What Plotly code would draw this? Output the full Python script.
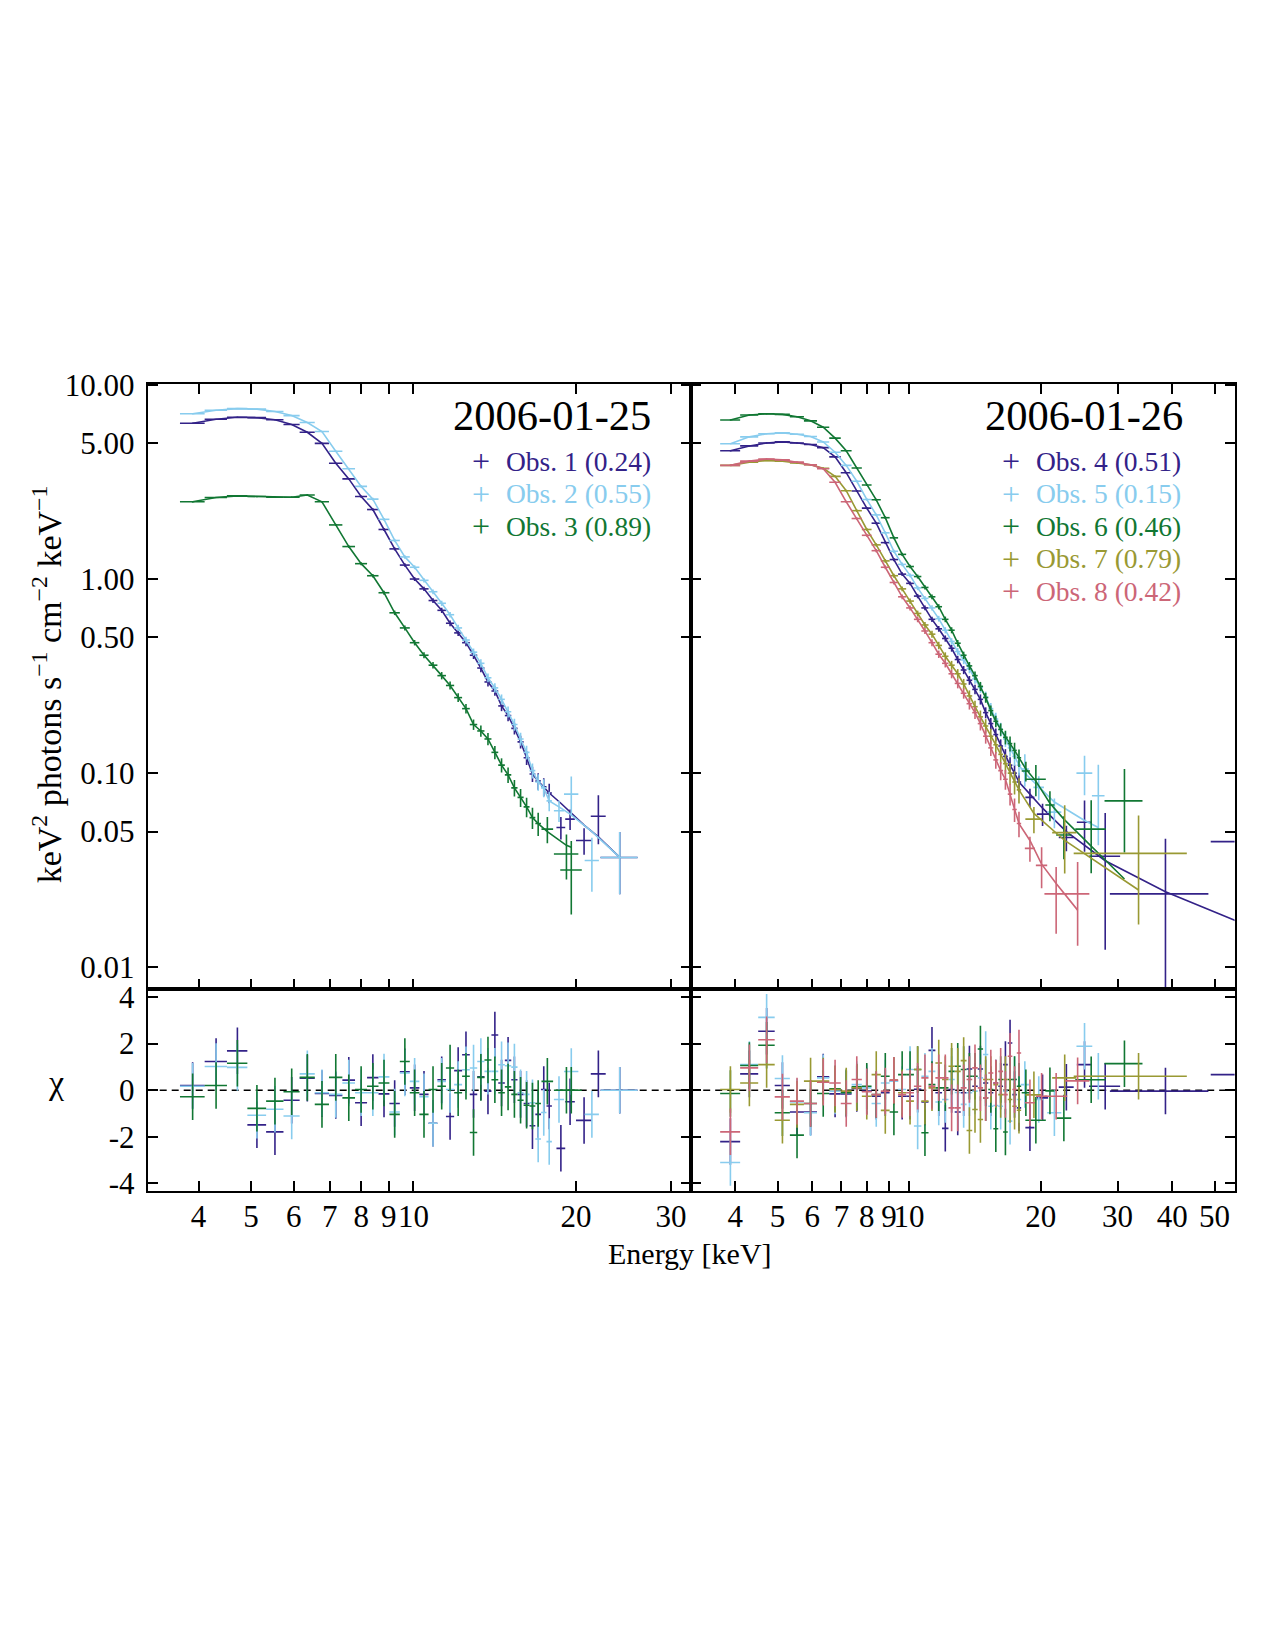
import math
import plotly.graph_objects as go

W, H = 1275, 1650
FONT = "Liberation Serif"

# ---------------- data ----------------
E_GRID = [3.90, 4.31, 4.72, 5.13, 5.54, 5.95, 6.36, 6.77, 7.18, 7.59, 8.00, 8.41, 8.82, 9.23, 9.64,
          10.05, 10.46, 10.87, 11.28, 11.69, 12.10, 12.51, 12.92, 13.33, 13.74, 14.15, 14.56, 14.97,
          15.38, 15.79, 16.20, 16.61, 17.02, 17.43, 17.84]
GRID_HALF_WIDTH = 0.205
REL_ERR = [0.005, 0.005, 0.005, 0.005, 0.006, 0.006, 0.006, 0.007, 0.009, 0.011, 0.013, 0.015, 0.017,
           0.019, 0.021, 0.023, 0.026, 0.028, 0.031, 0.034, 0.037, 0.040, 0.044, 0.048, 0.052, 0.056,
           0.060, 0.065, 0.070, 0.076, 0.082, 0.090, 0.098, 0.106, 0.115]

# --- 2006-01-25 ---
OBS1_FLUX = [6.35, 6.65, 6.82, 6.78, 6.62, 6.25, 5.70, 5.00, 3.95, 3.28, 2.66, 2.28, 1.80, 1.43, 1.18,
             1.00, 0.89, 0.775, 0.69, 0.592, 0.528, 0.47, 0.405, 0.348, 0.295, 0.265, 0.222, 0.198,
             0.170, 0.145, 0.12, 0.099, 0.091, 0.085, 0.079]
OBS1_TAIL_E = [18.75, 19.5, 20.7, 22.0, 24.1]
OBS1_TAIL_HW = [0.35, 0.4, 0.7, 0.7, 1.9]
OBS1_TAIL_FLUX = [0.0525, 0.058, 0.045, 0.060, 0.0368]
OBS1_TAIL_ERR = [0.007, 0.007, 0.007, 0.017, 0.013]
OBS1_TAIL_MODEL = [0.070, 0.063, 0.054, 0.047, 0.0368]
OBS1_CHI = [0.2, 1.23, 1.69, -1.49, -1.79, -0.43, 0.51, -0.14, -0.23, 0.43, -0.54, 0.54, -0.16, -0.57,
            0.79, 0.1, -0.18, -1.42, 0.45, -1.13, 0.84, 1.52, -0.18, 0.57, -0.04, 2.37, 0.31, 1.28,
            0.45, -0.18, -0.57, -1.53, -1.04, 0.03, -0.68, -2.5, -0.5, -1.3, 0.7, 0.0]

OBS2_FLUX = [7.1, 7.4, 7.55, 7.5, 7.3, 6.95, 6.4, 5.75, 4.55, 3.7, 3.0, 2.58, 2.03, 1.58, 1.30, 1.15,
             0.985, 0.86, 0.75, 0.655, 0.56, 0.485, 0.42, 0.368, 0.31, 0.275, 0.24, 0.207, 0.178,
             0.15, 0.128, 0.103, 0.09, 0.084, 0.072]
OBS2_TAIL_E = [18.6, 19.6, 21.4, 24.1]
OBS2_TAIL_HW = [0.4, 0.6, 0.65, 1.9]
OBS2_TAIL_FLUX = [0.064, 0.078, 0.0355, 0.0368]
OBS2_TAIL_ERR = [0.008, 0.018, 0.011, 0.013]
OBS2_TAIL_MODEL = [0.067, 0.061, 0.050, 0.0368]
OBS2_CHI = [0.17, 1.02, 0.98, -1.08, -0.82, -1.11, 0.7, -0.11, -0.18, 0.31, -0.11, -0.11, 0.57, -0.94,
            0.74, 0.38, -0.28, -1.42, 0.38, 0.03, 0.24, 0.88, 0.95, 1.23, 0.81, 0.81, 1.09, 1.05,
            0.99, -0.11, -0.18, -0.54, -2.1, -0.96, -2.21, -0.4, 0.8, -1.04, 0.0]

OBS3_FLUX = [2.5, 2.63, 2.68, 2.66, 2.64, 2.64, 2.71, 2.5, 1.9, 1.47, 1.2, 1.04, 0.85, 0.67, 0.56,
             0.47, 0.405, 0.36, 0.318, 0.283, 0.245, 0.215, 0.178, 0.165, 0.15, 0.128, 0.11, 0.098,
             0.084, 0.075, 0.067, 0.059, 0.055]
OBS3_TAIL_E = [17.7, 19.2, 19.6]
OBS3_TAIL_HW = [0.44, 1.0, 0.9]
OBS3_TAIL_FLUX = [0.0515, 0.0383, 0.0317]
OBS3_TAIL_ERR = [0.008, 0.010, 0.013]
OBS3_TAIL_MODEL = [0.050, 0.0425, 0.0415]
OBS3_CHI = [-0.28, 0.2, 1.16, -0.78, -0.47, -0.07, 0.55, -0.61, 0.55, -0.33, 0.03, 0.17, 0.31, -1.04,
            1.23, -0.11, -1.04, 0.03, 0.17, 0.95, -0.11, 0.6, -1.82, 0.55, 1.3, 0.45, -0.11, 0.14,
            -0.18, -0.43, -0.65, -0.68, -0.57, 0.38, 0.0, 0.0]

# --- 2006-01-26 ---
OBS4_FLUX = [4.58, 4.85, 5.02, 5.09, 5.02, 4.93, 4.75, 4.26, 3.53, 2.84, 2.32, 1.94, 1.54, 1.26, 1.06,
             0.95, 0.817, 0.71, 0.62, 0.554, 0.494, 0.44, 0.385, 0.34, 0.301, 0.27, 0.24, 0.205,
             0.18, 0.158, 0.138, 0.122, 0.11, 0.10, 0.09]
OBS4_TAIL_E = [18.9, 20.2, 22.9, 25.2, 28.1, 38.6, 58.0]
OBS4_TAIL_HW = [0.45, 0.6, 0.9, 1.0, 2.3, 9.8, 9.0]
OBS4_TAIL_FLUX = [0.075, 0.0615, 0.0466, 0.0559, 0.0373, 0.0239, 0.0444]
OBS4_TAIL_ERR = [0.008, 0.008, 0.007, 0.0165, 0.025, 0.022, 0.04]
OBS4_TAIL_MODEL = [0.078, 0.066, 0.050, 0.0425, 0.0354, 0.0245, 0.0168]
OBS4_CHI = [-2.21, 0.7, 2.53, 0.2, -0.94, -0.94, 0.57, -0.16, -0.16, 0.07, -0.04, -0.26, -0.11, 0.39,
            -0.26, -0.26, 0.04, -0.51, 1.71, -0.11, -1.64, 0.03, -0.94, -0.11, 0.91, 0.17, 0.91,
            0.31, -0.11, 0.31, 0.17, 1.1, 2.03, -0.19, -0.76, -1.61, -0.33, 0.13, 1.1, 0.17, -0.04,
            0.67]

OBS5_FLUX = [4.98, 5.4, 5.6, 5.66, 5.57, 5.42, 5.08, 4.5, 3.85, 3.19, 2.57, 2.14, 1.73, 1.39, 1.19,
             1.045, 0.90, 0.795, 0.71, 0.625, 0.545, 0.477, 0.423, 0.383, 0.345, 0.306, 0.276,
             0.247, 0.215, 0.19, 0.168, 0.15, 0.135, 0.122, 0.11]
OBS5_TAIL_E = [18.4, 19.8, 21.5, 25.2, 27.1]
OBS5_TAIL_HW = [0.4, 0.55, 0.8, 1.05, 0.9]
OBS5_TAIL_FLUX = [0.105, 0.0845, 0.063, 0.10, 0.0765]
OBS5_TAIL_ERR = [0.02, 0.012, 0.011, 0.023, 0.034]
OBS5_TAIL_MODEL = [0.10, 0.085, 0.071, 0.057, 0.0525]
OBS5_CHI = [-3.11, 1.1, 3.13, 0.5, -0.51, -0.97, 0.53, -0.04, -0.11, 0.24, 0.1, -0.57, 0.31, 0.39,
            0.03, 0.89, -1.54, 0.6, 0.81, -0.51, -0.4, 0.46, -0.1, -0.61, -0.11, -0.04, 0.53, 1.53,
            -0.69, -0.66, -0.69, -0.04, -1.33, 0.46, -0.4, 0.24, -0.4, -0.97, 1.89, 0.6]

OBS6_FLUX = [6.6, 7.0, 7.1, 7.05, 6.85, 6.53, 6.05, 5.32, 4.58, 3.73, 3.05, 2.56, 2.07, 1.63, 1.34,
             1.16, 1.03, 0.905, 0.81, 0.72, 0.62, 0.545, 0.467, 0.405, 0.357, 0.318, 0.28, 0.245,
             0.21, 0.185, 0.168, 0.153, 0.142, 0.131, 0.12]
OBS6_TAIL_E = [18.5, 19.5, 21.0, 22.6, 26.1, 31.1]
OBS6_TAIL_HW = [0.4, 1.05, 0.5, 0.9, 2.1, 3.1]
OBS6_TAIL_FLUX = [0.1026, 0.093, 0.0686, 0.048, 0.0515, 0.072]
OBS6_TAIL_ERR = [0.012, 0.017, 0.012, 0.012, 0.021, 0.033]
OBS6_TAIL_MODEL = [0.105, 0.091, 0.070, 0.058, 0.042, 0.0285]
OBS6_CHI = [-0.14, 1.06, 1.93, -0.97, -1.93, -0.57, -0.14, 0.06, -0.11, 0.14, 0.17, -0.19, 0.6, -0.94,
            0.67, 0.67, 0.89, -1.83, 0.24, 0.1, 0.1, 0.81, 1.03, 0.89, 0.6, 0.6, 1.77, -0.33, 0.03,
            -1.66, 0.46, -1.8, 0.46, 0.46, 0.17, -0.11, -1.29, -0.03, -1.2, 0.45, 1.14]

OBS7_FLUX = [3.85, 4.0, 4.08, 4.05, 3.96, 3.88, 3.72, 3.38, 2.85, 2.25, 1.8, 1.5, 1.24, 1.04, 0.89,
             0.77, 0.665, 0.58, 0.52, 0.455, 0.40, 0.36, 0.325, 0.288, 0.25, 0.22, 0.195, 0.175,
             0.155, 0.14, 0.125, 0.112, 0.10, 0.09, 0.082]
OBS7_TAIL_E = [19.3, 22.7, 33.5]
OBS7_TAIL_HW = [0.85, 1.45, 9.7]
OBS7_TAIL_FLUX = [0.058, 0.0494, 0.0386]
OBS7_TAIL_ERR = [0.009, 0.019, 0.022]
OBS7_TAIL_MODEL = [0.062, 0.045, 0.025]
OBS7_CHI = [0.03, 0.31, 1.1, -1.29, -0.61, 0.39, 0.39, 0.03, -0.04, 0.1, -0.26, 0.67, -0.87, 0.43,
            -0.11, -0.47, 0.89, -0.47, 0.1, 1.17, 0.46, 1.03, 0.81, 1.27, -1.73, -0.83, -1.26, 0.46,
            0.46, 0.24, -0.19, 0.46, -0.4, -0.69, -0.86, -0.2, 0.53, 0.6]

OBS8_FLUX = [3.85, 4.05, 4.15, 4.11, 4.0, 3.88, 3.7, 3.15, 2.5, 2.05, 1.68, 1.4, 1.15, 0.96, 0.81,
             0.71, 0.62, 0.54, 0.47, 0.41, 0.368, 0.325, 0.29, 0.258, 0.228, 0.205, 0.18, 0.155,
             0.135, 0.117, 0.103, 0.093, 0.078, 0.065, 0.055]
OBS8_TAIL_E = [18.9, 20.1, 21.7, 24.3]
OBS8_TAIL_HW = [0.5, 0.6, 1.3, 1.55]
OBS8_TAIL_FLUX = [0.041, 0.0335, 0.0239, 0.0239]
OBS8_TAIL_ERR = [0.006, 0.008, 0.009, 0.011]
OBS8_TAIL_MODEL = [0.045, 0.034, 0.027, 0.0197]
OBS8_CHI = [-1.79, 0.96, 2.17, -0.29, -0.47, -0.57, 0.34, 0.31, -0.57, 0.46, -0.07, -0.19, -0.04, 0.43,
            -0.19, -0.11, 0.17, 0.53, 0.17, 0.53, 0.53, -0.76, -0.76, 0.1, 0.46, 0.96, 0.1, -0.33,
            0.74, 0.31, 0.81, -0.19, 1.46, 0.03, 1.6, -0.54, -0.26, -0.26, 0.4]

LEGEND_LEFT = ["Obs. 1 (0.24)", "Obs. 2 (0.55)", "Obs. 3 (0.89)"]
LEGEND_RIGHT = ["Obs. 4 (0.51)", "Obs. 5 (0.15)", "Obs. 6 (0.46)", "Obs. 7 (0.79)", "Obs. 8 (0.42)"]
TITLE_LEFT = "2006-01-25"
TITLE_RIGHT = "2006-01-26"

X_TICKS_LEFT = [4, 5, 6, 7, 8, 9, 10, 20, 30]
X_TICKS_RIGHT = [4, 5, 6, 7, 8, 9, 10, 20, 30, 40, 50]
Y_TICKS = [0.01, 0.05, 0.1, 0.5, 1, 5, 10]
Y_TICK_TEXT = ["0.01", "0.05", "0.10", "0.50", "1.00", "5.00", "10.00"]
R_TICKS = [-4, -2, 0, 2, 4]
R_TICK_TEXT = ["-4", "-2", "0", "2", "4"]

C_INDIGO, C_CYAN, C_GREEN, C_OLIVE, C_ROSE = "#332288", "#88CCEE", "#117733", "#999933", "#CC6677"


# ---------------- helpers ----------------
def pxx(x):
    return x / W


def pxy(y):
    return 1 - y / H


X_LEFT = [pxx(147.7), pxx(691.2)]
X_RIGHT = [pxx(691.2), pxx(1234.6)]
Y_TOP = [pxy(989.0), pxy(373.5)]
Y_BOT = [pxy(1193.5), pxy(989.0)]
XR_LEFT = [math.log10(3.22), math.log10(3.22) + (691.2 - 147.7) / 540.0]
XR_RIGHT = [math.log10(3.172), math.log10(3.172) + (1234.6 - 691.2) / 437.0]
YR_TOP = [-2.114, 1.0067]
YR_BOT = [-4.32, 4.33]

fig = go.Figure()


def add_obs(flux, te, thw, tf, terr, tm, chi, color, escale, top, bot):
    n = len(flux)
    e = E_GRID[:n] + te
    hw = [GRID_HALF_WIDTH] * n + thw
    y = flux + tf
    dy = [f * r * escale for f, r in zip(flux, REL_ERR)] + terr
    model = flux + tm
    fig.add_trace(go.Scatter(x=e, y=model, mode="lines", line=dict(color=color, width=1.6),
                             xaxis=top[0], yaxis=top[1], showlegend=False, hoverinfo="skip"))
    fig.add_trace(go.Scatter(x=e, y=y, mode="markers", marker=dict(size=1, color=color),
                             error_x=dict(type="data", array=hw, width=0, thickness=1.6, color=color),
                             error_y=dict(type="data", array=dy, width=0, thickness=1.6, color=color),
                             xaxis=top[0], yaxis=top[1], showlegend=False))
    fig.add_trace(go.Scatter(x=e, y=chi, mode="markers", marker=dict(size=1, color=color),
                             error_x=dict(type="data", array=hw, width=0, thickness=1.6, color=color),
                             error_y=dict(type="constant", value=1, width=0, thickness=1.6, color=color),
                             xaxis=bot[0], yaxis=bot[1], showlegend=False))


LT, LB, RT, RB = ("x", "y"), ("x2", "y2"), ("x3", "y3"), ("x4", "y4")
add_obs(OBS1_FLUX, OBS1_TAIL_E, OBS1_TAIL_HW, OBS1_TAIL_FLUX, OBS1_TAIL_ERR, OBS1_TAIL_MODEL, OBS1_CHI, C_INDIGO, 1.0, LT, LB)
add_obs(OBS2_FLUX, OBS2_TAIL_E, OBS2_TAIL_HW, OBS2_TAIL_FLUX, OBS2_TAIL_ERR, OBS2_TAIL_MODEL, OBS2_CHI, C_CYAN, 1.0, LT, LB)
add_obs(OBS3_FLUX, OBS3_TAIL_E, OBS3_TAIL_HW, OBS3_TAIL_FLUX, OBS3_TAIL_ERR, OBS3_TAIL_MODEL, OBS3_CHI, C_GREEN, 1.4, LT, LB)
add_obs(OBS4_FLUX, OBS4_TAIL_E, OBS4_TAIL_HW, OBS4_TAIL_FLUX, OBS4_TAIL_ERR, OBS4_TAIL_MODEL, OBS4_CHI, C_INDIGO, 1.0, RT, RB)
add_obs(OBS5_FLUX, OBS5_TAIL_E, OBS5_TAIL_HW, OBS5_TAIL_FLUX, OBS5_TAIL_ERR, OBS5_TAIL_MODEL, OBS5_CHI, C_CYAN, 1.0, RT, RB)
add_obs(OBS6_FLUX, OBS6_TAIL_E, OBS6_TAIL_HW, OBS6_TAIL_FLUX, OBS6_TAIL_ERR, OBS6_TAIL_MODEL, OBS6_CHI, C_GREEN, 0.9, RT, RB)
add_obs(OBS7_FLUX, OBS7_TAIL_E, OBS7_TAIL_HW, OBS7_TAIL_FLUX, OBS7_TAIL_ERR, OBS7_TAIL_MODEL, OBS7_CHI, C_OLIVE, 1.3, RT, RB)
add_obs(OBS8_FLUX, OBS8_TAIL_E, OBS8_TAIL_HW, OBS8_TAIL_FLUX, OBS8_TAIL_ERR, OBS8_TAIL_MODEL, OBS8_CHI, C_ROSE, 1.3, RT, RB)

tickfont = dict(family=FONT, size=31, color="black")
base = dict(showline=True, linecolor="black", linewidth=2, ticks="inside", ticklen=10, tickwidth=1.5,
            tickcolor="black", showgrid=False, zeroline=False, tickfont=tickfont, tickangle=0)

layout_axes = dict(
    xaxis=dict(base, type="log", domain=X_LEFT, range=XR_LEFT, anchor="y", mirror="ticks",
               tickvals=X_TICKS_LEFT, showticklabels=False),
    xaxis2=dict(base, type="log", domain=X_LEFT, range=XR_LEFT, anchor="y2", mirror=True,
                tickvals=X_TICKS_LEFT, ticktext=[str(v) for v in X_TICKS_LEFT], ticklabelstandoff=-3),
    xaxis3=dict(base, type="log", domain=X_RIGHT, range=XR_RIGHT, anchor="y3", mirror="ticks",
                tickvals=X_TICKS_RIGHT, showticklabels=False),
    xaxis4=dict(base, type="log", domain=X_RIGHT, range=XR_RIGHT, anchor="y4", mirror=True,
                tickvals=X_TICKS_RIGHT, ticktext=[str(v) for v in X_TICKS_RIGHT], ticklabelstandoff=-3),
    yaxis=dict(base, type="log", domain=Y_TOP, range=YR_TOP, anchor="x", mirror="ticks",
               tickvals=Y_TICKS, ticktext=Y_TICK_TEXT, ticklabelstandoff=5),
    yaxis2=dict(base, domain=Y_BOT, range=YR_BOT, anchor="x2", mirror="ticks",
                tickvals=R_TICKS, ticktext=R_TICK_TEXT, ticklabelstandoff=5),
    yaxis3=dict(base, type="log", domain=Y_TOP, range=YR_TOP, anchor="x3", mirror="ticks",
                tickvals=Y_TICKS, showticklabels=False),
    yaxis4=dict(base, domain=Y_BOT, range=YR_BOT, anchor="x4", mirror="ticks",
                tickvals=R_TICKS, showticklabels=False),
)

shapes = []
for xr, yr in (("x2 domain", "y2"), ("x4 domain", "y4")):
    shapes.append(dict(type="line", xref=xr, yref=yr, x0=0, x1=1, y0=0, y1=0,
                       line=dict(color="black", width=1.5, dash="7px,5px"), layer="below"))

ann = []
for title, xr in ((TITLE_LEFT, 653), (TITLE_RIGHT, 1185)):
    ann.append(dict(text=title, x=pxx(xr), y=pxy(405.5), xref="paper", yref="paper",
                    xanchor="right", yanchor="middle", showarrow=False,
                    font=dict(family=FONT, size=42.5, color="black")))

left_cols = [C_INDIGO, C_CYAN, C_GREEN]
right_cols = [C_INDIGO, C_CYAN, C_GREEN, C_OLIVE, C_ROSE]
ROWS = [452.2, 485.3, 518.5, 551.6, 584.7]
for labels, cols, xplus, xtext in ((LEGEND_LEFT, left_cols, 481, 504),
                                   (LEGEND_RIGHT, right_cols, 1011, 1034)):
    for lab, c, ry in zip(labels, cols, ROWS):
        ann.append(dict(text="+", x=pxx(xplus), y=pxy(ry), xref="paper", yref="paper",
                        xanchor="center", yanchor="middle", showarrow=False,
                        font=dict(family=FONT, size=32, color=c)))
        ann.append(dict(text=lab, x=pxx(xtext), y=pxy(ry), xref="paper", yref="paper",
                        xanchor="left", yanchor="middle", showarrow=False,
                        font=dict(family=FONT, size=27.5, color=c)))

ann.append(dict(text="keV<sup>2</sup> photons s<sup>−1</sup> cm<sup>−2</sup> keV<sup>−1</sup>",
                x=pxx(47), y=pxy(679), xref="paper", yref="paper", textangle=-90,
                xanchor="center", yanchor="middle", showarrow=False,
                font=dict(family=FONT, size=34, color="black")))
ann.append(dict(text="χ", x=pxx(56), y=pxy(1084), xref="paper", yref="paper",
                xanchor="center", yanchor="middle", showarrow=False,
                font=dict(family=FONT, size=34, color="black")))
ann.append(dict(text="Energy [keV]", x=pxx(690), y=pxy(1257), xref="paper", yref="paper",
                xanchor="center", yanchor="middle", showarrow=False,
                font=dict(family=FONT, size=30, color="black")))

fig.update_layout(width=W, height=H, margin=dict(l=0, r=0, t=0, b=0),
                  paper_bgcolor="white", plot_bgcolor="white", showlegend=False,
                  font=dict(family=FONT, color="black"),
                  shapes=shapes, annotations=ann, **layout_axes)

fig.write_html("out.html")
